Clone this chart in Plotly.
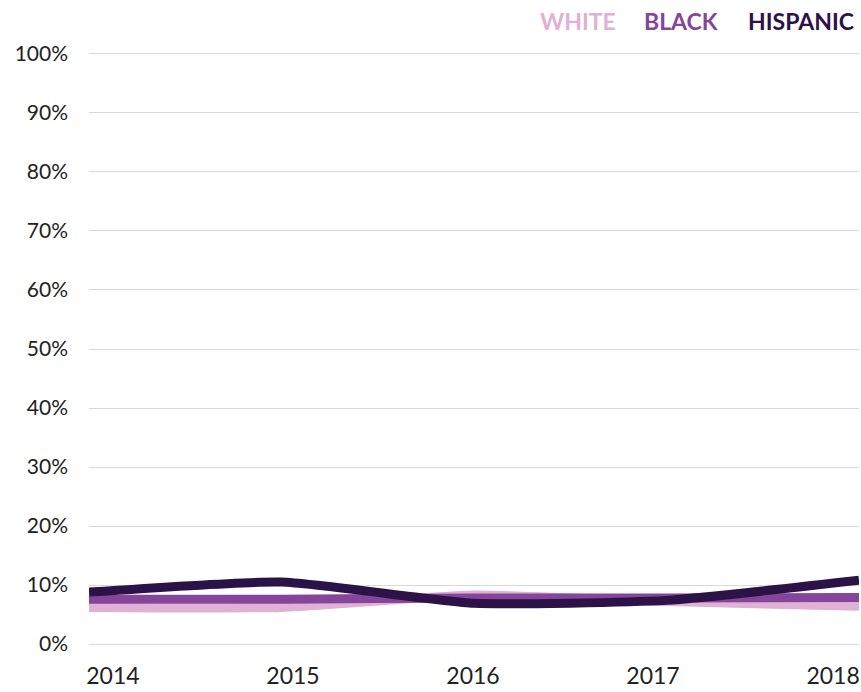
import plotly.graph_objects as go

years = [2014, 2015, 2016, 2017, 2018]
series_names = ["WHITE", "BLACK", "HISPANIC"]
white = [6.2, 6.2, 8.3, 7.2, 6.4]
black = [7.6, 7.6, 7.8, 7.8, 7.9]
hispanic = [8.8, 10.5, 6.9, 7.4, 10.8]
colors = ["#dfb1d4", "#84459b", "#2d1247"]
y_ticks = [0, 10, 20, 30, 40, 50, 60, 70, 80, 90, 100]
y_labels = [f"{v}%" for v in y_ticks]

FONT = "Lato"
W, H = 861, 692
ML, MR, MT, MB = 89, 2, 51, 45

fig = go.Figure()
for name, vals, col in zip(series_names, [white, black, hispanic], colors):
    fig.add_trace(go.Scatter(
        x=years, y=vals, mode="lines", name=name,
        line=dict(color=col, width=9, shape="spline", smoothing=0.5),
        showlegend=False, hoverinfo="skip",
    ))
# invisible trace on the label axis so it gets drawn
fig.add_trace(go.Scatter(x=years, y=[None] * len(years), xaxis="x2",
                         mode="lines", showlegend=False, hoverinfo="skip"))

fig.update_layout(
    width=W, height=H,
    margin=dict(l=ML, r=MR, t=MT, b=MB, autoexpand=False),
    paper_bgcolor="white", plot_bgcolor="white",
    font=dict(family=FONT, color="#222222", size=21),
    xaxis=dict(range=[2014, 2018], showticklabels=False, showgrid=False,
               zeroline=False, showline=False, ticks=""),
    xaxis2=dict(overlaying="x", anchor="y", side="bottom",
                range=[2013.867, 2018.144], tickvals=years,
                ticktext=[str(y) for y in years],
                showgrid=False, zeroline=False, showline=False, ticks="",
                ticklabelstandoff=13,
                tickfont=dict(family=FONT, size=23, color="#222222")),
    yaxis=dict(range=[-0.5, 100.5], tickvals=y_ticks, ticktext=y_labels,
               showgrid=True, gridcolor="#d9d9d9", gridwidth=1,
               zeroline=False, showline=False, ticks="",
               ticklabelstandoff=20,
               tickfont=dict(family=FONT, size=21, color="#222222")),
)

x_right = [618, 720, 856]
for name, col, xp in zip(series_names, colors, x_right):
    fig.add_annotation(
        x=(xp - ML) / (W - ML - MR), y=1 + (MT - 21) / (H - MT - MB),
        xref="paper", yref="paper", showarrow=False,
        text=f"<b>{name}</b>", font=dict(family=FONT, size=23, color=col),
        xanchor="right", yanchor="middle",
    )

fig.write_html("out.html", config={"displayModeBar": False},
               post_script="document.body.style.margin='0';document.body.style.overflow='hidden';")
